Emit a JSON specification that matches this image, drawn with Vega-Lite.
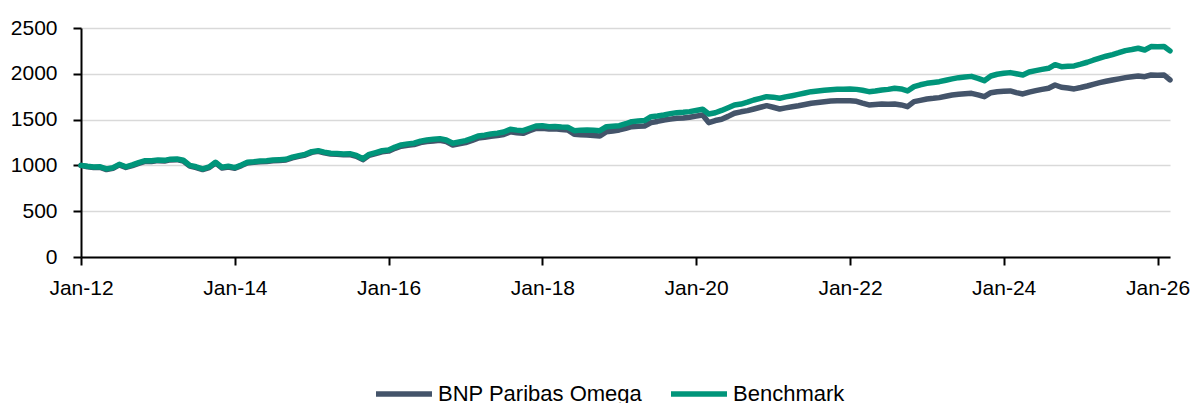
{
  "$schema": "https://vega.github.io/schema/vega-lite/v6.json",
  "width": 1089,
  "height": 229,
  "autosize": {"type": "none"},
  "padding": {"left": 81, "top": 28, "right": 25, "bottom": 146},
  "background": "white",
  "config": {"view": {"stroke": null}, "font": "Liberation Sans"},
  "data": {
    "values": [
      {"date":"2012-01-01","BNP Paribas Omega":1000,"Benchmark":1000},
      {"date":"2012-02-01","BNP Paribas Omega":985,"Benchmark":990},
      {"date":"2012-03-01","BNP Paribas Omega":978,"Benchmark":983},
      {"date":"2012-04-01","BNP Paribas Omega":978,"Benchmark":985},
      {"date":"2012-05-01","BNP Paribas Omega":955,"Benchmark":962},
      {"date":"2012-06-01","BNP Paribas Omega":968,"Benchmark":975},
      {"date":"2012-07-01","BNP Paribas Omega":1005,"Benchmark":1012},
      {"date":"2012-08-01","BNP Paribas Omega":978,"Benchmark":985},
      {"date":"2012-09-01","BNP Paribas Omega":998,"Benchmark":1005},
      {"date":"2012-10-01","BNP Paribas Omega":1022,"Benchmark":1030},
      {"date":"2012-11-01","BNP Paribas Omega":1045,"Benchmark":1052},
      {"date":"2012-12-01","BNP Paribas Omega":1043,"Benchmark":1050},
      {"date":"2013-01-01","BNP Paribas Omega":1052,"Benchmark":1059},
      {"date":"2013-02-01","BNP Paribas Omega":1048,"Benchmark":1055},
      {"date":"2013-03-01","BNP Paribas Omega":1060,"Benchmark":1068},
      {"date":"2013-04-01","BNP Paribas Omega":1063,"Benchmark":1070},
      {"date":"2013-05-01","BNP Paribas Omega":1048,"Benchmark":1056},
      {"date":"2013-06-01","BNP Paribas Omega":992,"Benchmark":1000},
      {"date":"2013-07-01","BNP Paribas Omega":977,"Benchmark":985},
      {"date":"2013-08-01","BNP Paribas Omega":955,"Benchmark":962},
      {"date":"2013-09-01","BNP Paribas Omega":976,"Benchmark":983},
      {"date":"2013-10-01","BNP Paribas Omega":1027,"Benchmark":1034},
      {"date":"2013-11-01","BNP Paribas Omega":972,"Benchmark":979},
      {"date":"2013-12-01","BNP Paribas Omega":983,"Benchmark":990},
      {"date":"2014-01-01","BNP Paribas Omega":969,"Benchmark":976},
      {"date":"2014-02-01","BNP Paribas Omega":998,"Benchmark":1005},
      {"date":"2014-03-01","BNP Paribas Omega":1027,"Benchmark":1034},
      {"date":"2014-04-01","BNP Paribas Omega":1033,"Benchmark":1040},
      {"date":"2014-05-01","BNP Paribas Omega":1040,"Benchmark":1048},
      {"date":"2014-06-01","BNP Paribas Omega":1042,"Benchmark":1050},
      {"date":"2014-07-01","BNP Paribas Omega":1050,"Benchmark":1058},
      {"date":"2014-08-01","BNP Paribas Omega":1054,"Benchmark":1062},
      {"date":"2014-09-01","BNP Paribas Omega":1059,"Benchmark":1067},
      {"date":"2014-10-01","BNP Paribas Omega":1082,"Benchmark":1090},
      {"date":"2014-11-01","BNP Paribas Omega":1098,"Benchmark":1106},
      {"date":"2014-12-01","BNP Paribas Omega":1113,"Benchmark":1121},
      {"date":"2015-01-01","BNP Paribas Omega":1142,"Benchmark":1150},
      {"date":"2015-02-01","BNP Paribas Omega":1153,"Benchmark":1161},
      {"date":"2015-03-01","BNP Paribas Omega":1137,"Benchmark":1145},
      {"date":"2015-04-01","BNP Paribas Omega":1124,"Benchmark":1132},
      {"date":"2015-05-01","BNP Paribas Omega":1121,"Benchmark":1130},
      {"date":"2015-06-01","BNP Paribas Omega":1116,"Benchmark":1125},
      {"date":"2015-07-01","BNP Paribas Omega":1119,"Benchmark":1128},
      {"date":"2015-08-01","BNP Paribas Omega":1100,"Benchmark":1110},
      {"date":"2015-09-01","BNP Paribas Omega":1063,"Benchmark":1073},
      {"date":"2015-10-01","BNP Paribas Omega":1110,"Benchmark":1121},
      {"date":"2015-11-01","BNP Paribas Omega":1129,"Benchmark":1140},
      {"date":"2015-12-01","BNP Paribas Omega":1149,"Benchmark":1160},
      {"date":"2016-01-01","BNP Paribas Omega":1156,"Benchmark":1168},
      {"date":"2016-02-01","BNP Paribas Omega":1187,"Benchmark":1200},
      {"date":"2016-03-01","BNP Paribas Omega":1209,"Benchmark":1223},
      {"date":"2016-04-01","BNP Paribas Omega":1220,"Benchmark":1235},
      {"date":"2016-05-01","BNP Paribas Omega":1227,"Benchmark":1242},
      {"date":"2016-06-01","BNP Paribas Omega":1249,"Benchmark":1265},
      {"date":"2016-07-01","BNP Paribas Omega":1261,"Benchmark":1278},
      {"date":"2016-08-01","BNP Paribas Omega":1267,"Benchmark":1285},
      {"date":"2016-09-01","BNP Paribas Omega":1274,"Benchmark":1292},
      {"date":"2016-10-01","BNP Paribas Omega":1259,"Benchmark":1278},
      {"date":"2016-11-01","BNP Paribas Omega":1222,"Benchmark":1242},
      {"date":"2016-12-01","BNP Paribas Omega":1235,"Benchmark":1255},
      {"date":"2017-01-01","BNP Paribas Omega":1249,"Benchmark":1270},
      {"date":"2017-02-01","BNP Paribas Omega":1273,"Benchmark":1295},
      {"date":"2017-03-01","BNP Paribas Omega":1298,"Benchmark":1321},
      {"date":"2017-04-01","BNP Paribas Omega":1306,"Benchmark":1330},
      {"date":"2017-05-01","BNP Paribas Omega":1318,"Benchmark":1343},
      {"date":"2017-06-01","BNP Paribas Omega":1326,"Benchmark":1352},
      {"date":"2017-07-01","BNP Paribas Omega":1338,"Benchmark":1365},
      {"date":"2017-08-01","BNP Paribas Omega":1366,"Benchmark":1394},
      {"date":"2017-09-01","BNP Paribas Omega":1356,"Benchmark":1385},
      {"date":"2017-10-01","BNP Paribas Omega":1350,"Benchmark":1379},
      {"date":"2017-11-01","BNP Paribas Omega":1378,"Benchmark":1405},
      {"date":"2017-12-01","BNP Paribas Omega":1403,"Benchmark":1430},
      {"date":"2018-01-01","BNP Paribas Omega":1405,"Benchmark":1432},
      {"date":"2018-02-01","BNP Paribas Omega":1398,"Benchmark":1423},
      {"date":"2018-03-01","BNP Paribas Omega":1400,"Benchmark":1425},
      {"date":"2018-04-01","BNP Paribas Omega":1392,"Benchmark":1418},
      {"date":"2018-05-01","BNP Paribas Omega":1387,"Benchmark":1416},
      {"date":"2018-06-01","BNP Paribas Omega":1340,"Benchmark":1379},
      {"date":"2018-07-01","BNP Paribas Omega":1334,"Benchmark":1385},
      {"date":"2018-08-01","BNP Paribas Omega":1332,"Benchmark":1387},
      {"date":"2018-09-01","BNP Paribas Omega":1326,"Benchmark":1383},
      {"date":"2018-10-01","BNP Paribas Omega":1321,"Benchmark":1379},
      {"date":"2018-11-01","BNP Paribas Omega":1368,"Benchmark":1423},
      {"date":"2018-12-01","BNP Paribas Omega":1375,"Benchmark":1428},
      {"date":"2019-01-01","BNP Paribas Omega":1387,"Benchmark":1434},
      {"date":"2019-02-01","BNP Paribas Omega":1405,"Benchmark":1455},
      {"date":"2019-03-01","BNP Paribas Omega":1423,"Benchmark":1478},
      {"date":"2019-04-01","BNP Paribas Omega":1427,"Benchmark":1485},
      {"date":"2019-05-01","BNP Paribas Omega":1430,"Benchmark":1489},
      {"date":"2019-06-01","BNP Paribas Omega":1467,"Benchmark":1532},
      {"date":"2019-07-01","BNP Paribas Omega":1480,"Benchmark":1540},
      {"date":"2019-08-01","BNP Paribas Omega":1496,"Benchmark":1550},
      {"date":"2019-09-01","BNP Paribas Omega":1505,"Benchmark":1565},
      {"date":"2019-10-01","BNP Paribas Omega":1514,"Benchmark":1576},
      {"date":"2019-11-01","BNP Paribas Omega":1518,"Benchmark":1580},
      {"date":"2019-12-01","BNP Paribas Omega":1525,"Benchmark":1587},
      {"date":"2020-01-01","BNP Paribas Omega":1538,"Benchmark":1600},
      {"date":"2020-02-01","BNP Paribas Omega":1550,"Benchmark":1613},
      {"date":"2020-03-01","BNP Paribas Omega":1467,"Benchmark":1561},
      {"date":"2020-04-01","BNP Paribas Omega":1490,"Benchmark":1575},
      {"date":"2020-05-01","BNP Paribas Omega":1504,"Benchmark":1600},
      {"date":"2020-06-01","BNP Paribas Omega":1535,"Benchmark":1630},
      {"date":"2020-07-01","BNP Paribas Omega":1569,"Benchmark":1660},
      {"date":"2020-08-01","BNP Paribas Omega":1585,"Benchmark":1670},
      {"date":"2020-09-01","BNP Paribas Omega":1598,"Benchmark":1690},
      {"date":"2020-10-01","BNP Paribas Omega":1616,"Benchmark":1714},
      {"date":"2020-11-01","BNP Paribas Omega":1635,"Benchmark":1732},
      {"date":"2020-12-01","BNP Paribas Omega":1652,"Benchmark":1750},
      {"date":"2021-01-01","BNP Paribas Omega":1635,"Benchmark":1745},
      {"date":"2021-02-01","BNP Paribas Omega":1616,"Benchmark":1733},
      {"date":"2021-03-01","BNP Paribas Omega":1628,"Benchmark":1748},
      {"date":"2021-04-01","BNP Paribas Omega":1641,"Benchmark":1761},
      {"date":"2021-05-01","BNP Paribas Omega":1652,"Benchmark":1775},
      {"date":"2021-06-01","BNP Paribas Omega":1665,"Benchmark":1790},
      {"date":"2021-07-01","BNP Paribas Omega":1678,"Benchmark":1805},
      {"date":"2021-08-01","BNP Paribas Omega":1686,"Benchmark":1812},
      {"date":"2021-09-01","BNP Paribas Omega":1695,"Benchmark":1820},
      {"date":"2021-10-01","BNP Paribas Omega":1704,"Benchmark":1827},
      {"date":"2021-11-01","BNP Paribas Omega":1705,"Benchmark":1830},
      {"date":"2021-12-01","BNP Paribas Omega":1706,"Benchmark":1832},
      {"date":"2022-01-01","BNP Paribas Omega":1707,"Benchmark":1835},
      {"date":"2022-02-01","BNP Paribas Omega":1700,"Benchmark":1830},
      {"date":"2022-03-01","BNP Paribas Omega":1680,"Benchmark":1820},
      {"date":"2022-04-01","BNP Paribas Omega":1660,"Benchmark":1805},
      {"date":"2022-05-01","BNP Paribas Omega":1665,"Benchmark":1812},
      {"date":"2022-06-01","BNP Paribas Omega":1671,"Benchmark":1824},
      {"date":"2022-07-01","BNP Paribas Omega":1668,"Benchmark":1830},
      {"date":"2022-08-01","BNP Paribas Omega":1671,"Benchmark":1842},
      {"date":"2022-09-01","BNP Paribas Omega":1660,"Benchmark":1835},
      {"date":"2022-10-01","BNP Paribas Omega":1641,"Benchmark":1813},
      {"date":"2022-11-01","BNP Paribas Omega":1696,"Benchmark":1860},
      {"date":"2022-12-01","BNP Paribas Omega":1710,"Benchmark":1880},
      {"date":"2023-01-01","BNP Paribas Omega":1725,"Benchmark":1896},
      {"date":"2023-02-01","BNP Paribas Omega":1732,"Benchmark":1905},
      {"date":"2023-03-01","BNP Paribas Omega":1740,"Benchmark":1914},
      {"date":"2023-04-01","BNP Paribas Omega":1755,"Benchmark":1930},
      {"date":"2023-05-01","BNP Paribas Omega":1768,"Benchmark":1945},
      {"date":"2023-06-01","BNP Paribas Omega":1777,"Benchmark":1958},
      {"date":"2023-07-01","BNP Paribas Omega":1782,"Benchmark":1965},
      {"date":"2023-08-01","BNP Paribas Omega":1787,"Benchmark":1972},
      {"date":"2023-09-01","BNP Paribas Omega":1770,"Benchmark":1950},
      {"date":"2023-10-01","BNP Paribas Omega":1750,"Benchmark":1925},
      {"date":"2023-11-01","BNP Paribas Omega":1794,"Benchmark":1976},
      {"date":"2023-12-01","BNP Paribas Omega":1805,"Benchmark":1995},
      {"date":"2024-01-01","BNP Paribas Omega":1810,"Benchmark":2005},
      {"date":"2024-02-01","BNP Paribas Omega":1813,"Benchmark":2013},
      {"date":"2024-03-01","BNP Paribas Omega":1795,"Benchmark":2000},
      {"date":"2024-04-01","BNP Paribas Omega":1780,"Benchmark":1987},
      {"date":"2024-05-01","BNP Paribas Omega":1800,"Benchmark":2020},
      {"date":"2024-06-01","BNP Paribas Omega":1816,"Benchmark":2035},
      {"date":"2024-07-01","BNP Paribas Omega":1830,"Benchmark":2048},
      {"date":"2024-08-01","BNP Paribas Omega":1842,"Benchmark":2060},
      {"date":"2024-09-01","BNP Paribas Omega":1878,"Benchmark":2100},
      {"date":"2024-10-01","BNP Paribas Omega":1853,"Benchmark":2078},
      {"date":"2024-11-01","BNP Paribas Omega":1845,"Benchmark":2082},
      {"date":"2024-12-01","BNP Paribas Omega":1835,"Benchmark":2086},
      {"date":"2025-01-01","BNP Paribas Omega":1850,"Benchmark":2105},
      {"date":"2025-02-01","BNP Paribas Omega":1867,"Benchmark":2126},
      {"date":"2025-03-01","BNP Paribas Omega":1885,"Benchmark":2148},
      {"date":"2025-04-01","BNP Paribas Omega":1903,"Benchmark":2170},
      {"date":"2025-05-01","BNP Paribas Omega":1918,"Benchmark":2192},
      {"date":"2025-06-01","BNP Paribas Omega":1933,"Benchmark":2210},
      {"date":"2025-07-01","BNP Paribas Omega":1945,"Benchmark":2230},
      {"date":"2025-08-01","BNP Paribas Omega":1958,"Benchmark":2253},
      {"date":"2025-09-01","BNP Paribas Omega":1968,"Benchmark":2265},
      {"date":"2025-10-01","BNP Paribas Omega":1976,"Benchmark":2279},
      {"date":"2025-11-01","BNP Paribas Omega":1969,"Benchmark":2260},
      {"date":"2025-12-01","BNP Paribas Omega":1987,"Benchmark":2297},
      {"date":"2026-01-01","BNP Paribas Omega":1985,"Benchmark":2295},
      {"date":"2026-02-01","BNP Paribas Omega":1987,"Benchmark":2297},
      {"date":"2026-03-01","BNP Paribas Omega":1933,"Benchmark":2250}
    ]
  },
  "transform": [
    {"fold": ["BNP Paribas Omega", "Benchmark"], "as": ["series", "value"]}
  ],
  "mark": {"type": "line", "strokeWidth": 5.5, "strokeJoin": "round", "strokeCap": "round"},
  "encoding": {
    "x": {
      "field": "date",
      "type": "temporal",
      "scale": {
        "type": "utc",
        "domain": [
          {"year": 2012, "month": 1, "date": 1, "utc": true},
          {"year": 2026, "month": 3, "date": 1, "utc": true}
        ]
      },
      "axis": {
        "title": null,
        "values": [
          {"year": 2012, "month": 1, "date": 1, "utc": true},
          {"year": 2014, "month": 1, "date": 1, "utc": true},
          {"year": 2016, "month": 1, "date": 1, "utc": true},
          {"year": 2018, "month": 1, "date": 1, "utc": true},
          {"year": 2020, "month": 1, "date": 1, "utc": true},
          {"year": 2022, "month": 1, "date": 1, "utc": true},
          {"year": 2024, "month": 1, "date": 1, "utc": true},
          {"year": 2026, "month": 1, "date": 1, "utc": true}
        ],
        "format": "%b-%y",
        "grid": false,
        "labelFont": "Liberation Sans",
        "labelFontSize": 21,
        "labelColor": "#000000",
        "labelPadding": 12,
        "labelFlush": false,
        "labelOverlap": false,
        "domainColor": "#000000",
        "domainWidth": 2,
        "tickColor": "#000000",
        "tickWidth": 2,
        "tickSize": 8
      }
    },
    "y": {
      "field": "value",
      "type": "quantitative",
      "scale": {"domain": [0, 2500], "nice": false, "zero": true},
      "axis": {
        "title": null,
        "values": [0, 500, 1000, 1500, 2000, 2500],
        "format": "d",
        "grid": true,
        "gridColor": "#d9d9d9",
        "gridWidth": 1.5,
        "labelFont": "Liberation Sans",
        "labelFontSize": 21,
        "labelColor": "#000000",
        "labelPadding": 16,
        "domainColor": "#000000",
        "domainWidth": 2,
        "tickColor": "#000000",
        "tickWidth": 2,
        "tickSize": 8
      }
    },
    "color": {
      "field": "series",
      "type": "nominal",
      "scale": {"domain": ["BNP Paribas Omega", "Benchmark"], "range": ["#44546A", "#00957A"]},
      "legend": {
        "title": null,
        "orient": "none",
        "direction": "horizontal",
        "legendX": 292,
        "legendY": 335,
        "symbolType": "stroke",
        "symbolSize": 3136,
        "symbolStrokeWidth": 5.5,
        "labelFont": "Liberation Sans",
        "labelFontSize": 22,
        "labelColor": "#000000",
        "labelOffset": 3,
        "columnPadding": 17,
        "labelLimit": 400
      }
    }
  }
}
